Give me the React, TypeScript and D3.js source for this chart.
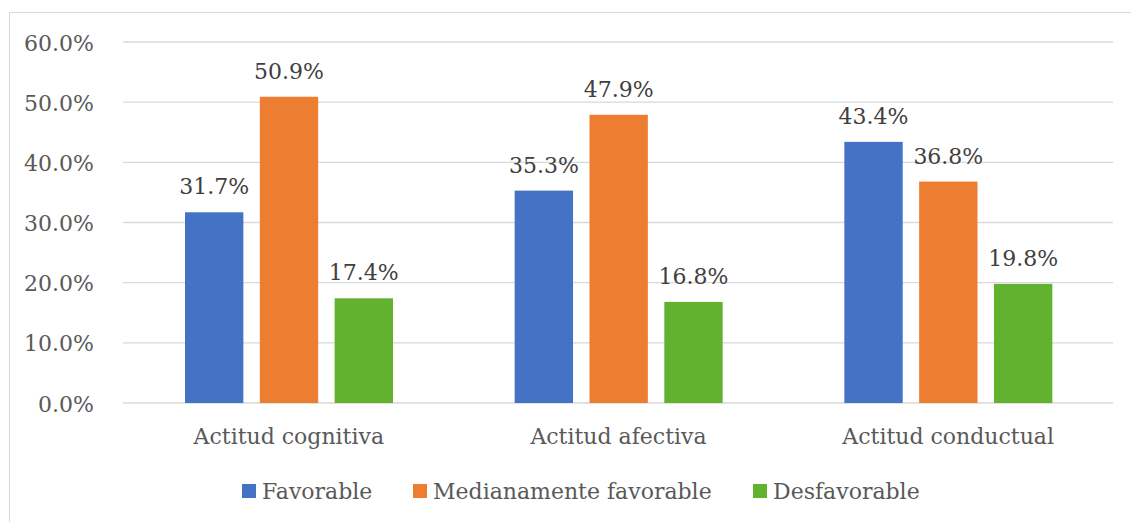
import React from "react";
import * as d3 from "d3";

const categories = ["Actitud cognitiva", "Actitud afectiva", "Actitud conductual"];
const seriesNames = ["Favorable", "Medianamente favorable", "Desfavorable"];
const favorable = [31.7, 35.3, 43.4];
const medianamente = [50.9, 47.9, 36.8];
const desfavorable = [17.4, 16.8, 19.8];
const yTicks = [0, 10, 20, 30, 40, 50, 60];
const colors = ["#4472C4", "#ED7D31", "#62B22F"];

const W = 1131;
const H = 522;
const font = "'DejaVu Serif'";
const textColor = "#595959";
const FS = 22;

export default function App() {
  const series = [favorable, medianamente, desfavorable];
  const x0 = d3.scaleBand<string>().domain(categories).range([124, 1113]).padding(0);
  const x1 = d3.scaleBand<string>().domain(seriesNames).range([61, 269]).paddingInner(0.22).paddingOuter(0);
  const y = d3.scaleLinear().domain([0, 60]).range([403, 42]);

  const legendX = [242, 413, 753];
  const ts = { fontFamily: font, fontSize: FS };

  return (
    <svg width={W} height={H} style={{ position: "absolute", left: 0, top: 0 }}>
      <rect x={0} y={0} width={W} height={H} fill="#fff" />
      <rect x={9.5} y={12.5} width={W + 20} height={H + 20} fill="none" stroke="#D9D9D9" strokeWidth={1} />
      {yTicks.map((t) => (
        <g key={t}>
          <line x1={123} x2={1113} y1={y(t)} y2={y(t)} stroke="#D9D9D9" strokeWidth={1.3} />
          <text x={94} y={y(t) + 8.5} textAnchor="end" style={ts} fill={textColor}>
            {t.toFixed(1) + "%"}
          </text>
        </g>
      ))}
      {categories.map((c, ci) => (
        <g key={c}>
          {seriesNames.map((s, si) => {
            const v = series[si][ci];
            const bx = (x0(c) ?? 0) + (x1(s) ?? 0);
            const bw = x1.bandwidth();
            return (
              <g key={s}>
                <rect x={bx} y={y(v)} width={bw} height={y(0) - y(v)} fill={colors[si]} />
                <text x={bx + bw / 2} y={y(v) - 18} textAnchor="middle" style={ts} fill="#404040">
                  {v.toFixed(1) + "%"}
                </text>
              </g>
            );
          })}
          <text x={(x0(c) ?? 0) + x0.bandwidth() / 2} y={444} textAnchor="middle" style={ts} fill={textColor}>
            {c}
          </text>
        </g>
      ))}
      {seriesNames.map((s, i) => (
        <g key={s}>
          <rect x={legendX[i]} y={484} width={14} height={14} fill={colors[i]} />
          <text x={legendX[i] + 20} y={499} style={ts} fill={textColor}>
            {s}
          </text>
        </g>
      ))}
    </svg>
  );
}
